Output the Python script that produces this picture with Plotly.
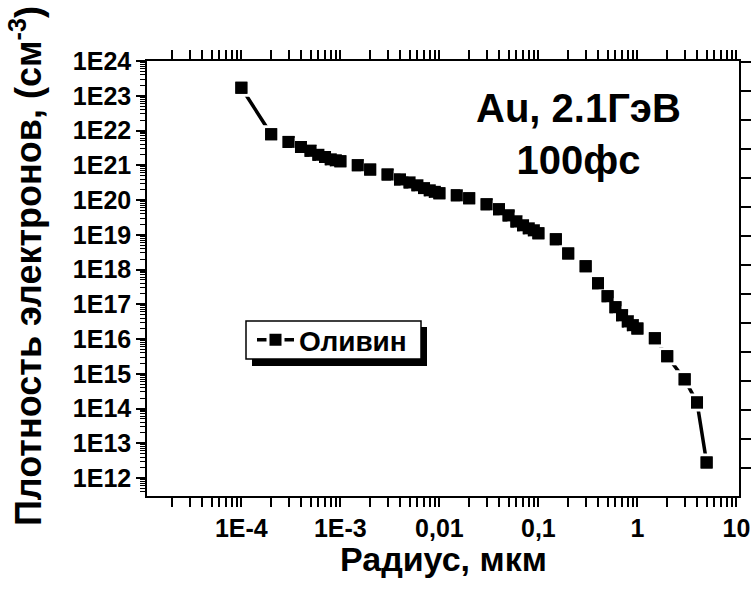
import plotly.graph_objects as go

# Electron density around an Au (2.1 GeV) ion track in olivine, t = 100 fs
radius_um = [
    1e-4, 2e-4, 3e-4, 4e-4, 5e-4, 6e-4, 7e-4, 8e-4, 9e-4, 1e-3,
    1.5e-3, 2e-3, 3e-3, 4e-3, 5e-3, 6e-3, 7e-3, 8e-3, 9e-3, 1e-2,
    1.5e-2, 2e-2, 3e-2, 4e-2, 5e-2, 6e-2, 7e-2, 8e-2, 9e-2, 0.1,
    0.15, 0.2, 0.3, 0.4, 0.5, 0.6, 0.7, 0.8, 0.9, 1.0,
    1.5, 2.0, 3.0, 4.0, 5.0,
]
density_cm3 = [
    1.7e23, 7.8e21, 4.7e21, 3.35e21, 2.6e21, 2.0e21, 1.73e21, 1.48e21, 1.39e21, 1.3e21,
    1.0e21, 7.5e20, 5.4e20, 3.9e20, 3.2e20, 2.65e20, 2.2e20, 1.9e20, 1.72e20, 1.56e20,
    1.36e20, 1.12e20, 7.5e19, 5.4e19, 3.6e19, 2.4e19, 1.87e19, 1.53e19, 1.34e19, 1.1e19,
    7.4e18, 2.9e18, 1.24e18, 4.0e17, 1.7e17, 8.2e16, 4.8e16, 3.2e16, 2.5e16, 2.0e16,
    1.05e16, 3.2e15, 6.9e14, 1.5e14, 2.8e12,
]
series_name = "Оливин"

x_tick_vals = [1e-4, 1e-3, 1e-2, 1e-1, 1, 10]
x_tick_text = ["1E-4", "1E-3", "0,01", "0,1", "1", "10"]
y_tick_vals = [10.0 ** p for p in range(12, 25)]
y_tick_text = ["1E%d" % p for p in range(12, 25)]

x_minor = [m * 10.0 ** d for d in range(-5, 1) for m in range(2, 10)]
y_minor = [m * 10.0 ** d for d in range(11, 24) for m in range(2, 10)]

FONT = "Liberation Sans, Arial, sans-serif"
BLACK = "#000000"

# plot-area geometry in pixels
W, H = 751, 594
L, R, T, B = 147, 12, 61, 98
PW, PH = W - L - R, H - T - B
X_RANGE = [-4.953, 1.026]
Y_RANGE = [11.482, 24]


def px_x(px):
    return (px - L) / PW


def px_y(py):
    return (H - B - py) / PH


fig = go.Figure()

# line + squares with a white rim, so the line stops short of each marker
fig.add_trace(go.Scatter(
    x=radius_um, y=density_cm3, name=series_name, mode="lines+markers",
    line=dict(color=BLACK, width=3.5),
    marker=dict(symbol="square", size=15, color=BLACK,
                line=dict(color="white", width=3)),
    hoverinfo="skip",
))
# solid squares on top, so neighbouring markers merge into one band
fig.add_trace(go.Scatter(
    x=radius_um, y=density_cm3, mode="markers", showlegend=False,
    marker=dict(symbol="square", size=12, color=BLACK, line=dict(width=0)),
    hoverinfo="skip",
))
# transparent copy that brings the right-hand tick axis to life
fig.add_trace(go.Scatter(
    x=radius_um, y=density_cm3, xaxis="x", yaxis="y2", mode="markers",
    marker=dict(opacity=0), showlegend=False, hoverinfo="skip",
))

tick_font = dict(family=FONT, size=25, color=BLACK, weight="bold")

fig.update_layout(
    width=W, height=H,
    margin=dict(l=L, r=R, t=T, b=B, pad=0, autoexpand=False),
    paper_bgcolor="white", plot_bgcolor="white",
    showlegend=True,
    xaxis=dict(
        type="log", range=X_RANGE, automargin=False,
        tickmode="array", tickvals=x_tick_vals, ticktext=x_tick_text,
        ticks="outside", ticklen=9, tickwidth=1.5, tickcolor=BLACK,
        minor=dict(tickmode="array", tickvals=x_minor, ticks="outside",
                   ticklen=5, tickwidth=1.5, tickcolor=BLACK, showgrid=False),
        showline=True, linewidth=1.5, linecolor=BLACK, mirror="allticks",
        showgrid=False, zeroline=False, tickfont=tick_font,
    ),
    yaxis=dict(
        type="log", range=Y_RANGE, automargin=False,
        tickmode="array", tickvals=y_tick_vals, ticktext=y_tick_text,
        ticks="outside", ticklen=9, tickwidth=1.5, tickcolor=BLACK,
        minor=dict(tickmode="array", tickvals=y_minor, ticks="outside",
                   ticklen=5, tickwidth=1.2, tickcolor=BLACK, showgrid=False),
        showline=True, linewidth=1.5, linecolor=BLACK,
        showgrid=False, zeroline=False, tickfont=tick_font,
    ),
    yaxis2=dict(
        overlaying="y", side="right", anchor="x", automargin=False,
        range=[0.0276, 15.0276], tickmode="linear", tick0=1, dtick=1,
        ticks="outside", ticklen=10, tickwidth=1.5, tickcolor=BLACK,
        showticklabels=False, showline=True, linewidth=1.5, linecolor=BLACK,
        showgrid=False, zeroline=False,
    ),
    legend=dict(
        x=px_x(252), y=px_y(315), xanchor="left", yanchor="top",
        bgcolor="rgba(0,0,0,0)", borderwidth=0, itemwidth=37,
        font=dict(family=FONT, size=28, color=BLACK, weight="bold"),
    ),
)

# legend frame with its drop shadow
fig.add_shape(
    type="rect", xref="paper", yref="paper",
    x0=px_x(252), x1=px_x(427), y0=px_y(366), y1=px_y(327),
    fillcolor=BLACK, line=dict(width=0), layer="above",
)
fig.add_shape(
    type="rect", xref="paper", yref="paper",
    x0=px_x(246), x1=px_x(421), y0=px_y(359), y1=px_y(321),
    fillcolor="white", line=dict(color=BLACK, width=1.5), layer="above",
)

fig.add_annotation(
    text="Au, 2.1ГэВ<br>100фс", xref="paper", yref="paper",
    x=px_x(578), y=px_y(134), xanchor="center", yanchor="middle",
    showarrow=False, align="center",
    font=dict(family=FONT, size=40, color=BLACK, weight="bold"),
)
fig.add_annotation(
    text="Радиус, мкм", xref="paper", yref="paper",
    x=px_x(443), y=px_y(559), xanchor="center", yanchor="middle",
    showarrow=False,
    font=dict(family=FONT, size=34, color=BLACK, weight="bold"),
)
fig.add_annotation(
    text="Плотность электронов, (см<sup>-3</sup>)", xref="paper", yref="paper",
    x=px_x(26), y=px_y(266), xanchor="center", yanchor="middle",
    textangle=-90, showarrow=False,
    font=dict(family=FONT, size=36, color=BLACK, weight="bold"),
)

fig.write_html("out.html")
